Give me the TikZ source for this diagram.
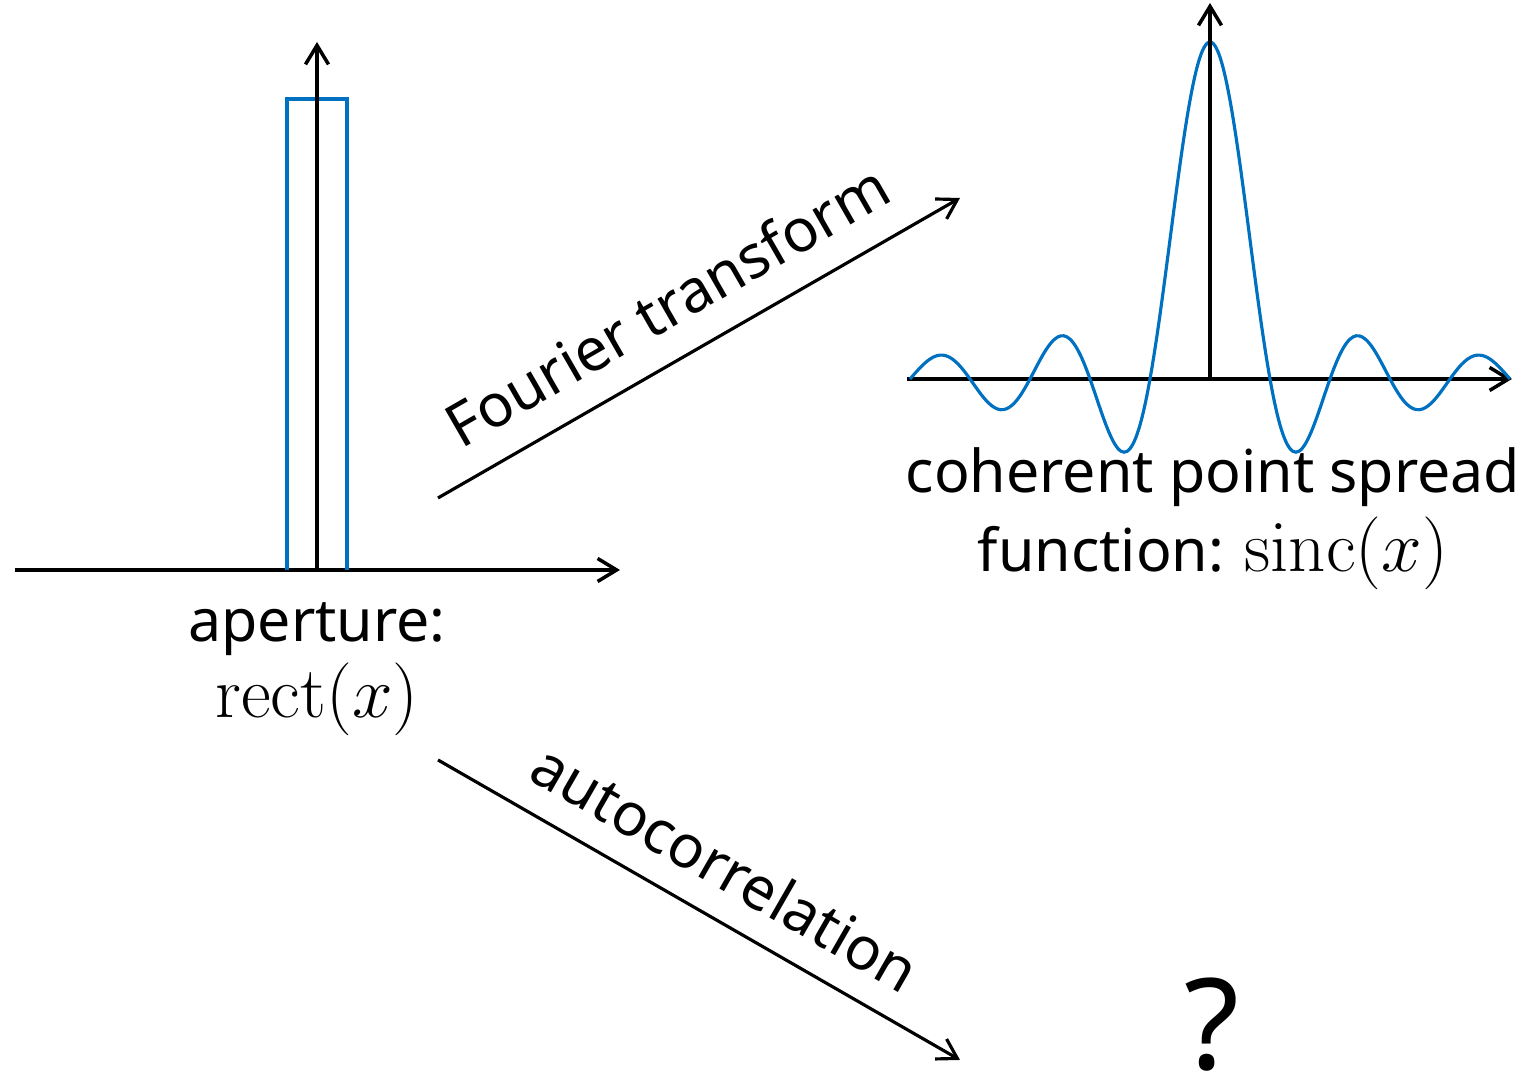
\documentclass[tikz,border=0pt]{standalone}
\usepackage{amsmath}
\usepackage[no-math]{fontspec}
\setmainfont{Noto Sans}
\usepackage{tikz}
\usetikzlibrary{arrows.meta, positioning, calc}
\definecolor{PlotBlue}{RGB}{0, 112, 192}
\newcommand{\bigmath}[1]{{\fontsize{19.5}{22.5}\selectfont$#1$}}

\begin{document}
\begin{tikzpicture}[
		axis/.style={-{Straight Barb[length=1.9mm, width=2.3mm]}, line width=1pt, black},
		curve/.style={PlotBlue, line width=0.9pt},
		arr/.style={-{Straight Barb[length=1.9mm, width=2.3mm]}, line width=0.9pt, black},
		lbl/.style={inner sep=0pt, align=center, font=\fontsize{16.8}{22.5}\selectfont}]
	\useasboundingbox (0,0) rectangle (15.29,10.81);

	% left plot: aperture
	\coordinate (lo) at (3.17,5.11);
	\draw[axis] (0.15,5.11) -- (6.20,5.11);
	\draw[curve] (2.87,5.11) -- (2.87,9.82) -- (3.47,9.82) -- (3.47,5.11);
	\draw[axis] (lo) -- (3.17,10.39);
	\node[lbl] (aper) at (3.17,4.12) {aperture:\\[-1pt] \bigmath{\mathrm{rect}(x)}};

	% right plot: psf
	\coordinate (ro) at (12.10,7.02);
	\draw[axis] (9.07,7.02) -- (15.12,7.02);
	\draw[curve] plot[domain=-5:5, samples=200, smooth] ({12.10+0.6*\x}, {7.02+3.37*sin(180*\x)/(pi*\x)});
	\draw[axis] (ro) -- (12.10,10.78);
	\node[lbl] (psf) at (12.13,5.62) {coherent point spread\\ function: \bigmath{\mathrm{sinc}(x)}};

	% arrows
	\coordinate (fta) at (4.38,5.83);
	\coordinate (ftb) at (9.60,8.83);
	\coordinate (aca) at (4.38,3.21);
	\coordinate (acb) at (9.60,0.21);
	\draw[arr] (fta) -- (ftb);
	\draw[arr] (aca) -- (acb);
	\node[lbl, font=\fontsize{17}{22}\selectfont, rotate=29.9] (ftlbl) at (6.67,7.76) {Fourier transform};
	\node[lbl, font=\fontsize{17}{22}\selectfont, rotate=-29.9] (aclbl) at (7.26,2.14) {autocorrelation};
	\node[inner sep=0pt, anchor=base, font=\fontsize{36}{40}\selectfont] (qm) at (12.12,0.11) {?};
\end{tikzpicture}
\end{document}
